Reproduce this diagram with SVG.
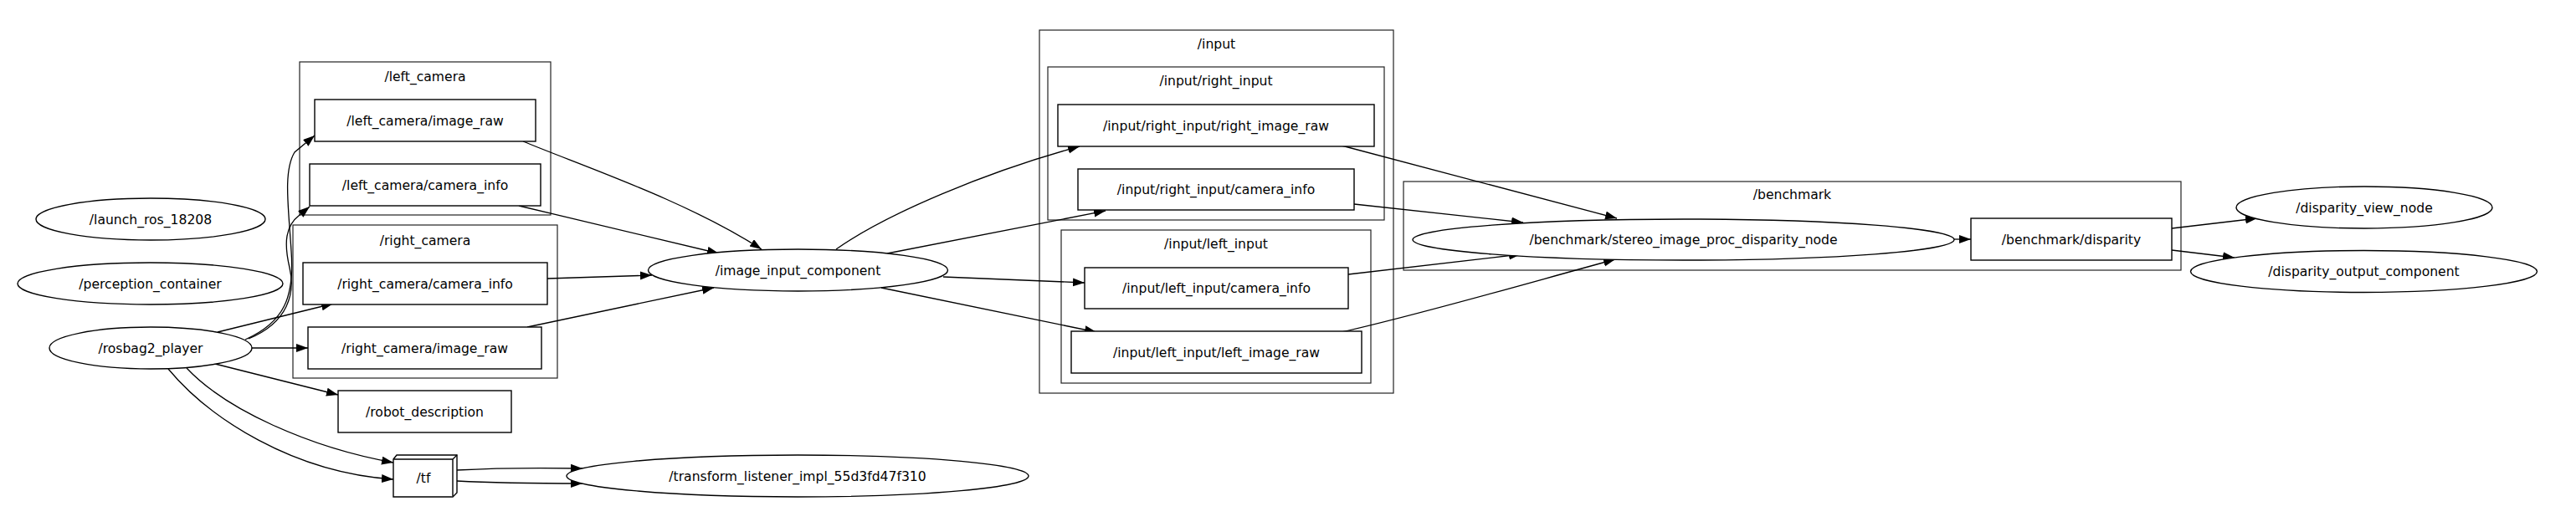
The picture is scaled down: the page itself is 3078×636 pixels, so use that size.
<svg xmlns="http://www.w3.org/2000/svg" width="3078" height="636" viewBox="0 0 3078 636">
<style>
text{font-family:"DejaVu Sans","Verdana",sans-serif;font-size:15.6px;fill:#000;text-anchor:middle}
.cl{fill:none;stroke:#222;stroke-width:1.2}
.nd{fill:#fff;stroke:#000;stroke-width:1.4}
.ed{fill:none;stroke:#000;stroke-width:1.3;marker-end:url(#ah)}
</style>
<defs>
<marker id="ah" markerUnits="userSpaceOnUse" markerWidth="15" markerHeight="11" refX="14" refY="5" orient="auto">
<path d="M0,0 L14,5 L0,10 z" fill="#000"/>
</marker>
</defs>
<rect width="3078" height="636" fill="#fff"/>
<g id="clusters">
<g id="cluster_left_camera"><rect class="cl" x="358" y="74" width="300" height="183"/><text x="508" y="97">/left_camera</text></g>
<g id="cluster_right_camera"><rect class="cl" x="350" y="269" width="316" height="183"/><text x="508" y="293">/right_camera</text></g>
<g id="cluster_input"><rect class="cl" x="1242" y="36" width="423" height="434"/><text x="1453.5" y="58">/input</text></g>
<g id="cluster_right_input"><rect class="cl" x="1252" y="80" width="402" height="183"/><text x="1453" y="102">/input/right_input</text></g>
<g id="cluster_left_input"><rect class="cl" x="1268" y="275" width="370" height="183"/><text x="1453" y="297">/input/left_input</text></g>
<g id="cluster_benchmark"><rect class="cl" x="1677" y="217" width="929" height="106"/><text x="2141.5" y="238">/benchmark</text></g>
</g>
<g id="connectors">
<path class="ed" d="M293,406 C340,385 352,355 348,300 C345,250 338,205 352,182 L376,162"/>
<path class="ed" d="M297,405 C345,385 353,350 346,320 C339,290 341,270 358,257 L370,247"/>
<path class="ed" d="M260,397 L398,363"/>
<path class="ed" d="M300,416 L368,416"/>
<path class="ed" d="M257,435 L404,472"/>
<path class="ed" d="M223,440 C270,490 370,535 470,553"/>
<path class="ed" d="M201,441 C250,500 350,565 470,573"/>
<path class="ed" d="M546,562 C600,559 640,559 696,560"/>
<path class="ed" d="M546,575 C600,578 640,578 696,578"/>
<path class="ed" d="M625,169 C700,200 820,240 910,298"/>
<path class="ed" d="M620,246 L859,303"/>
<path class="ed" d="M654,333 L779,329"/>
<path class="ed" d="M630,391 L853,344"/>
<path class="ed" d="M999,298 C1060,255 1180,205 1290,175"/>
<path class="ed" d="M1060,303 L1321,252"/>
<path class="ed" d="M1127,331 L1296,338"/>
<path class="ed" d="M1053,344 L1310,397"/>
<path class="ed" d="M1603,174 L1932,261"/>
<path class="ed" d="M1618,244 L1820,266"/>
<path class="ed" d="M1611,328 L1817,304"/>
<path class="ed" d="M1603,397 C1700,375 1820,340 1930,310"/>
<path class="ed" d="M2335,286 L2355,286"/>
<path class="ed" d="M2595,273 L2697,261"/>
<path class="ed" d="M2595,299 L2670,308"/>
</g>
<g id="n_launch_ros"><ellipse class="nd" cx="180" cy="262" rx="137" ry="25"/><text x="180" y="267.5">/launch_ros_18208</text></g>
<g id="n_perception_container"><ellipse class="nd" cx="179.5" cy="339" rx="158.5" ry="25"/><text x="179.5" y="344.5">/perception_container</text></g>
<g id="n_rosbag2_player"><ellipse class="nd" cx="180" cy="416" rx="121" ry="25"/><text x="180" y="421.5">/rosbag2_player</text></g>
<g id="n_left_image_raw"><rect class="nd" x="376" y="119" width="264" height="50"/><text x="508" y="149.5">/left_camera/image_raw</text></g>
<g id="n_left_camera_info"><rect class="nd" x="370" y="196" width="276" height="50"/><text x="508" y="226.5">/left_camera/camera_info</text></g>
<g id="n_right_camera_info"><rect class="nd" x="362" y="314" width="292" height="50"/><text x="508" y="344.5">/right_camera/camera_info</text></g>
<g id="n_right_image_raw"><rect class="nd" x="368" y="391" width="279" height="50"/><text x="507.5" y="421.5">/right_camera/image_raw</text></g>
<g id="n_robot_description"><rect class="nd" x="404" y="467" width="207" height="50"/><text x="507.5" y="497.5">/robot_description</text></g>
<g id="n_tf"><path class="nd" d="M470,549 L474,544 L546,544 L546,589 L541,594 L470,594 Z"/><path class="nd" fill="none" d="M470,549 L541,549 L541,594 M541,549 L546,544"/><text x="506" y="577">/tf</text></g>
<g id="n_transform_listener"><ellipse class="nd" cx="953" cy="569" rx="276" ry="25"/><text x="953" y="574.5">/transform_listener_impl_55d3fd47f310</text></g>
<g id="n_image_input_component"><ellipse class="nd" cx="953.5" cy="323" rx="179" ry="25"/><text x="953.5" y="328.5">/image_input_component</text></g>
<g id="n_in_right_image_raw"><rect class="nd" x="1264" y="125" width="378" height="50"/><text x="1453" y="155.5">/input/right_input/right_image_raw</text></g>
<g id="n_in_right_camera_info"><rect class="nd" x="1288" y="202" width="330" height="49"/><text x="1453" y="232">/input/right_input/camera_info</text></g>
<g id="n_in_left_camera_info"><rect class="nd" x="1296" y="320" width="315" height="49"/><text x="1453.5" y="350">/input/left_input/camera_info</text></g>
<g id="n_in_left_image_raw"><rect class="nd" x="1280" y="396" width="347" height="50"/><text x="1453.5" y="426.5">/input/left_input/left_image_raw</text></g>
<g id="n_stereo"><ellipse class="nd" cx="2011.5" cy="286.5" rx="323.5" ry="24.5"/><text x="2011.5" y="292">/benchmark/stereo_image_proc_disparity_node</text></g>
<g id="n_disparity"><rect class="nd" x="2355" y="261" width="240" height="50"/><text x="2475" y="291.5">/benchmark/disparity</text></g>
<g id="n_disparity_view"><ellipse class="nd" cx="2825" cy="248" rx="153" ry="25"/><text x="2825" y="253.5">/disparity_view_node</text></g>
<g id="n_disparity_output"><ellipse class="nd" cx="2824.5" cy="324.5" rx="207" ry="25"/><text x="2824.5" y="330">/disparity_output_component</text></g>
</svg>
